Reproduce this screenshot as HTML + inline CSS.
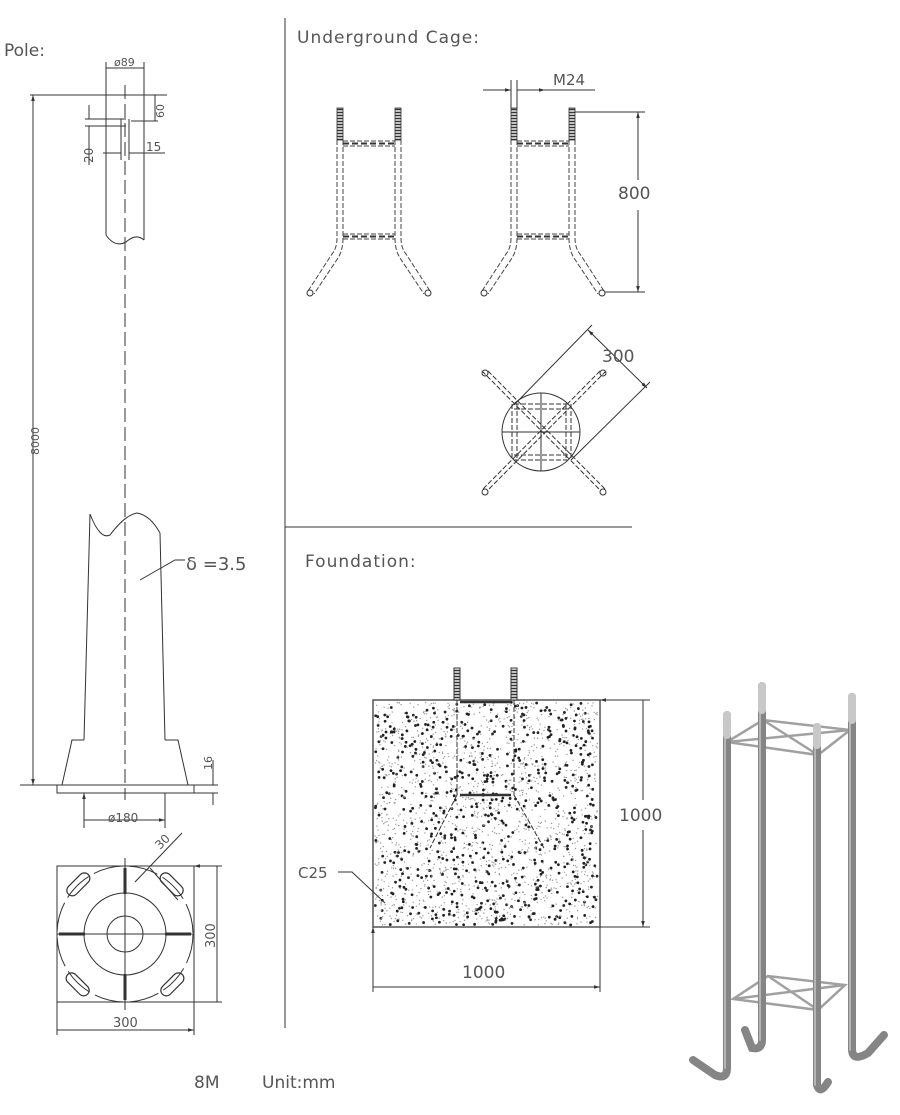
<!DOCTYPE html>
<html><head><meta charset="utf-8"><style>
html,body{margin:0;padding:0;background:#fff;}
svg{display:block;}
text{font-family:"DejaVu Sans","Liberation Sans",sans-serif;fill:#555;}
</style></head><body>
<svg id="s" width="900" height="1115" viewBox="0 0 900 1115" xmlns="http://www.w3.org/2000/svg">
<defs>
<marker id="ar" viewBox="0 0 10 10" refX="10" refY="5" markerWidth="8" markerHeight="6" orient="auto-start-reverse"><path d="M0,2 L10,5 L0,8 z" fill="#333"/></marker>
<pattern id="thr" width="6" height="3" patternUnits="userSpaceOnUse"><rect width="6" height="3" fill="#fff"/><path d="M0,1.5 H6" stroke="#333" stroke-width="1.6"/></pattern>
<g id="cage">
 <rect x="-3" y="0" width="6" height="32" fill="url(#thr)" stroke="#333" stroke-width="0.8"/>
 <rect x="55" y="0" width="6" height="32" fill="url(#thr)" stroke="#333" stroke-width="0.8"/>
 <g stroke="#444" stroke-width="1" stroke-dasharray="5,2" fill="none">
  <path d="M-3,32 V130 M3,32 V130 M55,32 V130 M61,32 V130"/>
  <path d="M3,33 H55 M3,38 H55 M3,126 H55 M3,131 H55"/>
  <path d="M-3,130 Q-3,140 -8,146 L-32,183 M3,130 Q3,142 -2,150 L-26,186"/>
  <path d="M61,130 Q61,140 66,146 L90,183 M55,130 Q55,142 60,150 L84,186"/>
 </g>
 <path d="M3,35.5 H55 M3,128.5 H55" stroke="#333" stroke-width="2" stroke-dasharray="6,3"/>
 <circle cx="-30" cy="185" r="3" fill="none" stroke="#333"/>
 <circle cx="88" cy="185" r="3" fill="none" stroke="#333"/>
</g>
</defs>

<g stroke="#333" stroke-width="1" fill="none">
 <path d="M285,18 V1028 M285,527 H632"/>
 <path d="M106,62 V235 M144,62 V240 M106,68 H144" />
 <path d="M30,95 H167"/>
 <path d="M106,235 Q115,248 126,242 Q136,233 144,240"/>
 <path d="M125,85 V800" stroke-dasharray="14,5"/>
 <path d="M85,119 H126 M85,126 H126 M121,119 V160 M129,119 V160"/>
 <path d="M131,121 H158 M140,95 H158 M155,95 V121"/>
 <path d="M89,105 V119 M89,126 V165"/>
 <path d="M103,153 H121 M129,153 H165"/>
 <path d="M33,95 V785" marker-start="url(#ar)" marker-end="url(#ar)"/>
 <path d="M90,514 Q100,540 110,535 Q125,515 137,513 Q150,515 160,533 M90,514 L84,740 M160,533 L165,740"/>
 <path d="M140,580 L175,560 H185"/>
 <path d="M62,785 L72,740 H84 M188,785 L178,740 H165"/>
 <rect x="57" y="785" width="137" height="8"/>
 <path d="M20,785 H57 M194,785 H218 M194,793 H218 M213,760 V785 M213,793 V805"/>
 <path d="M84,793 V828 M165,793 V828 M84,820 H165" marker-start="url(#ar)" marker-end="url(#ar)"/>
 <rect x="57" y="866" width="137" height="136"/>
 <circle cx="125" cy="934" r="68" stroke-dasharray="30,6"/>
 <circle cx="125" cy="934" r="41"/>
 <circle cx="125" cy="934" r="18"/>
 <path d="M118,934 H132 M125,927 V941 M57,934 H194 M125,858 V1010"/>
 <path d="M194,866 H222 M194,1002 H222 M217,866 V1002 M57,1002 V1035 M194,1002 V1035 M57,1030 H194" marker-start="url(#ar)" marker-end="url(#ar)"/>
 <path d="M135,882 L182,833 M150,868 L178,900"/>
 <g stroke-width="1.2">
  <rect x="64" y="879" width="28" height="11" rx="5.5" transform="rotate(-45 78 884)"/>
  <rect x="158" y="879" width="28" height="11" rx="5.5" transform="rotate(45 172 884)"/>
  <rect x="64" y="979" width="28" height="11" rx="5.5" transform="rotate(45 78 984)"/>
  <rect x="158" y="979" width="28" height="11" rx="5.5" transform="rotate(-45 172 984)"/>
 </g>
 <path d="M125,868 V894 M125,974 V1000 M59,934 H85 M165,934 H191" stroke-width="3"/>
</g>

<g transform="translate(340,108)"><use href="#cage"/></g>
<g transform="translate(514,108)"><use href="#cage"/></g>
<g stroke="#333" stroke-width="1" fill="none">
 <path d="M511,80 V108 M517,80 V108"/>
 <path d="M483,90 H511" marker-end="url(#ar)"/>
 <path d="M545,90 H517 M545,90 H595" marker-start="url(#ar)"/>
 <path d="M575,112 H645 M605,292 H645"/>
 <path d="M638,112 V180 M638,210 V292" marker-start="url(#ar)"/>
 <path d="M638,292 V210" marker-start="url(#ar)"/>
 <circle cx="541" cy="432" r="39"/>
 <path d="M502,432 H580 M541,393 V471"/>
 <g stroke-dasharray="5,2">
  <path d="M514,404 H570 M514,409 H570 M514,455 H570 M514,460 H570 M512,404 V460 M517,404 V460 M566,404 V460 M571,404 V460"/>
  <path d="M482,371 L600,490 M488,371 L606,490 M600,371 L482,490 M606,371 L488,490"/>
 </g>
 <circle cx="485" cy="373" r="3"/><circle cx="603" cy="373" r="3"/><circle cx="485" cy="492" r="3"/><circle cx="603" cy="492" r="3"/>
 <path d="M514,405 L592,325 M571,460 L650,382"/>
 <path d="M588,330 L647,388" marker-start="url(#ar)" marker-end="url(#ar)"/>
 <rect x="373" y="700" width="227" height="227" stroke="#555" stroke-width="1.5"/>
 <path d="M600,700 H650 M600,927 H650 M643,700 V800 M643,830 V927" marker-start="url(#ar)"/>
 <path d="M643,927 V830" marker-start="url(#ar)"/>
 <path d="M373,927 V992 M600,927 V992 M373,987 H600" marker-start="url(#ar)" marker-end="url(#ar)"/>
 <path d="M338,872 L352,872 L385,903"/>
</g>
<g id="dots"></g>
<g stroke="#333" stroke-width="1" fill="none">
 <rect x="454" y="668" width="6" height="32" fill="url(#thr)"/>
 <rect x="511" y="668" width="6" height="32" fill="url(#thr)"/>
 <g stroke-dasharray="5,2">
  <path d="M457,700 V795 M514,700 V795"/>
  <path d="M457,795 L430,848 M514,795 L545,850"/>
 </g>
 <path d="M460,702 H511 M460,795 H511" stroke-width="2.5"/>
</g>

<g fill="none" stroke-linecap="round">
 <g stroke="#a0a0a0" stroke-width="2.5">
  <path d="M727,742 L763,720 L850,730 L818,755 Z M727,742 L850,730 M763,720 L818,755"/>
  <path d="M733,999 L768,976 L845,985 L818,1010 Z M733,999 L845,985 M768,976 L818,1010"/>
 </g>
 <g stroke="#858585" stroke-width="8">
  <path d="M762,686 V1040 Q762,1050 752,1048 L745,1030"/>
  <path d="M852,697 V1050 Q853,1062 868,1053 L884,1035"/>
  <path d="M727,715 V1068 Q727,1080 715,1075 L693,1060"/>
  <path d="M817,727 V1085 Q820,1095 828,1082"/>
 </g>
 <g stroke="#b5b5b5" stroke-width="2">
  <path d="M760,686 V1040 M850,697 V1050 M725,715 V1068 M815,727 V1085"/>
 </g>
 <g stroke="#c8c8c8" stroke-width="8">
  <path d="M762,686 V710 M852,697 V720 M727,715 V735 M817,727 V745"/>
 </g>
</g>

<text x="4" y="56" font-size="17">Pole:</text>
<text x="114" y="66" font-size="11">ø89</text>
<text x="0" y="0" font-size="11" transform="translate(164,118) rotate(-90)">60</text>
<text x="146" y="151" font-size="12">15</text>
<text x="0" y="0" font-size="12" transform="translate(93,163) rotate(-90)">20</text>
<text x="0" y="0" font-size="11" transform="translate(39,455) rotate(-90)">8000</text>
<text x="186" y="570" font-size="18">δ =3.5</text>
<text x="0" y="0" font-size="11" transform="translate(212,770) rotate(-90)">16</text>
<text x="108" y="822" font-size="12">ø180</text>
<text x="0" y="0" font-size="12" transform="translate(160,850) rotate(-45)">30</text>
<text x="0" y="0" font-size="13" transform="translate(215,948) rotate(-90)">300</text>
<text x="113" y="1027" font-size="13">300</text>
<text x="297" y="43" font-size="17" letter-spacing="1">Underground Cage:</text>
<text x="553" y="85" font-size="15">M24</text>
<text x="618" y="199" font-size="17">800</text>
<text x="602" y="362" font-size="17">300</text>
<text x="305" y="567" font-size="17" letter-spacing="1">Foundation:</text>
<text x="619" y="821" font-size="17">1000</text>
<text x="462" y="978" font-size="17">1000</text>
<text x="298" y="878" font-size="15">C25</text>
<text x="194" y="1088" font-size="17">8M</text>
<text x="262" y="1088" font-size="17">Unit:mm</text>
</svg>
<script>
(function(){var s=12345;function r(){s=(s*1103515245+12345)%2147483648;return s/2147483648;}
var g=document.getElementById('dots'),ns='http://www.w3.org/2000/svg';
for(var i=0;i<2200;i++){var c=document.createElementNS(ns,'circle');var dark=r()<0.3;
c.setAttribute('cx',375+r()*223);c.setAttribute('cy',702+r()*223);c.setAttribute('r',dark?1.4:0.7);
c.setAttribute('fill',dark?'#222':'#999');g.appendChild(c);}})();
</script>
</body></html>
